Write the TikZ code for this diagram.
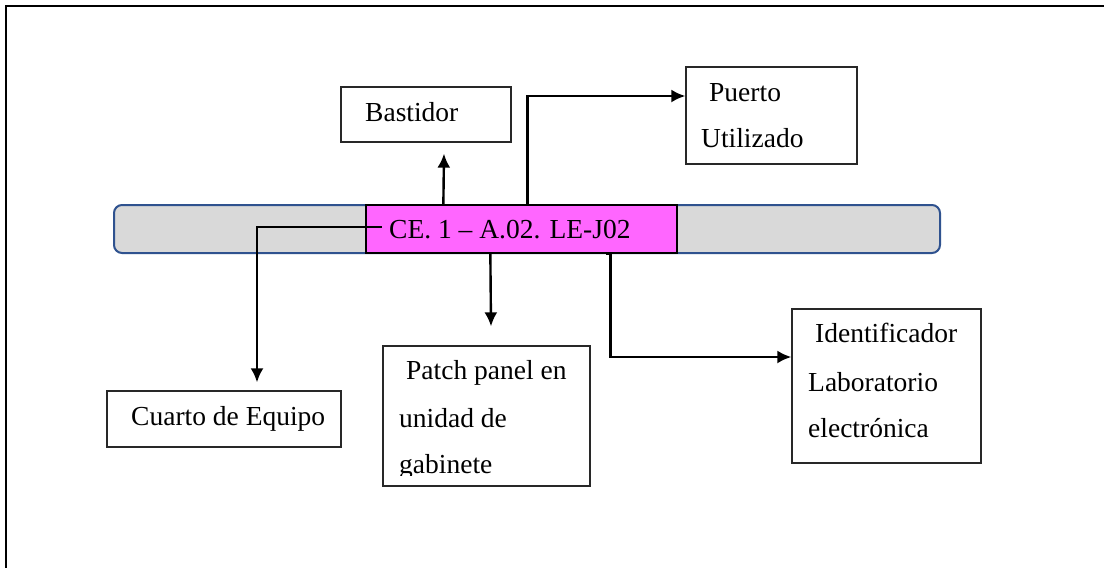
\documentclass[tikz,border=0pt]{standalone}
\usepackage{fontspec}
\setmainfont{Liberation Serif}
\usetikzlibrary{arrows.meta,calc}
\definecolor{barfill}{RGB}{217,217,217}
\definecolor{barline}{RGB}{47,82,143}
\definecolor{magfill}{RGB}{255,102,255}
\definecolor{boxline}{RGB}{40,40,40}
\begin{document}
\begin{tikzpicture}[x=1pt,y=-1pt,
  box/.style={draw=boxline, line width=1.3pt, rectangle, inner sep=0pt},
  lbl/.style={anchor=base west, inner sep=0pt, font=\fontsize{27.5}{33}\selectfont},
  conn/.style={line width=2.4pt, -{Latex[length=14pt,width=13pt]}}]
\useasboundingbox (0,0) rectangle (1104,568);
\fill[white] (0,0) rectangle (1104,568);
\draw[line width=2pt] (6,568) -- (6,6) -- (1104,6);

% central bar
\node[draw=barline, fill=barfill, line width=2pt, rounded corners=8pt,
      minimum width=826pt, minimum height=48pt, inner sep=0pt] (bar) at (527,229) {};
\node[draw=black, fill=magfill, line width=1.3pt,
      minimum width=311pt, minimum height=48pt, inner sep=0pt] (mag) at (521.5,229) {};
\node[lbl] (magT) at (389,238) {CE. 1 – A.02. LE-J02};

% boxes
\node[box, minimum width=170pt, minimum height=55pt] (bast) at (426,114.5) {};
\node[lbl] (bastT) at (365,121) {Bastidor};

\node[box, minimum width=171pt, minimum height=97pt] (puerto) at (771.5,115.5) {};
\node[lbl] (puertoA) at (709,101) {Puerto};
\node[lbl] (puertoB) at (701,147) {Utilizado};

\node[box, minimum width=234pt, minimum height=56pt] (cuarto) at (224,419) {};
\node[lbl] (cuartoT) at (131,425) {Cuarto de Equipo};

\node[box, minimum width=207pt, minimum height=140pt] (patch) at (486.5,416) {};
\node[lbl] (patchA) at (406,379) {Patch panel en};
\node[lbl] (patchB) at (399,427) {unidad de};
\begin{scope}
  \clip (383,346) rectangle (590,475);
  \node[lbl] (patchC) at (399,473) {gabinete};
\end{scope}

\node[box, minimum width=189pt, minimum height=154pt] (ident) at (886.5,386) {};
\node[lbl] (identA) at (815,342) {Identificador};
\node[lbl] (identB) at (808,391) {Laboratorio};
\node[lbl] (identC) at (808,437) {electrónica};

% connectors
\draw[conn] ($(magT.west)+(-7,-2)$) -| ($(cuarto.north)+(33,-8)$);
\draw[conn] ($(mag.north west)+(78,0)$) -- ($(bast.south)+(18,11)$);
\draw[conn] ($(mag.north west)+(162,0)$) |- ($(puerto.west)+(0,-19.5)$);
\draw[conn] ($(mag.south west)+(125,0)$) -- ($(patch.north)+(4.5,-19)$);
\draw[line width=2.4pt] ($(mag.south west)+(241,0)$) -- ($(mag.south west)+(245,0)$);
\draw[conn] ($(mag.south west)+(245,0)$) |- ($(ident.west)+(0,-29)$);
\end{tikzpicture}
\end{document}
